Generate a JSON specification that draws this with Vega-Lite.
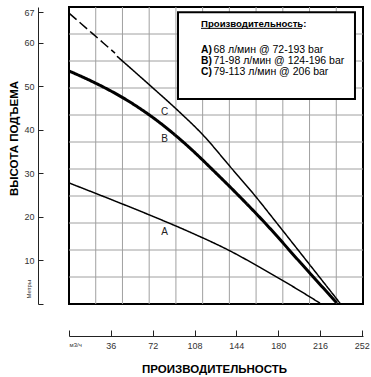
{
  "$schema": "https://vega.github.io/schema/vega-lite/v6.json",
  "width": 294,
  "height": 297,
  "autosize": "none",
  "padding": {"left": 69, "top": 7, "right": 8, "bottom": 73},
  "config": {
    "view": {"stroke": "black", "strokeWidth": 2},
    "font": "Liberation Sans"
  },
  "datasets": {
    "vgrid": [{"g": 23}, {"g": 46}, {"g": 69}, {"g": 92}, {"g": 115}, {"g": 138}, {"g": 161}, {"g": 184}, {"g": 207}, {"g": 230}],
    "hgrid": [{"g": 6.2}, {"g": 12.4}, {"g": 18.6}, {"g": 24.8}, {"g": 31.0}, {"g": 37.2}, {"g": 43.4}, {"g": 49.6}, {"g": 55.8}, {"g": 62.0}],
    "curves": [
      {"curve": "A", "part": "solid", "q": 0, "m": 27.8},
      {"curve": "A", "part": "solid", "q": 35.3, "m": 24.1},
      {"curve": "A", "part": "solid", "q": 69.7, "m": 20.4},
      {"curve": "A", "part": "solid", "q": 104.1, "m": 16.5},
      {"curve": "A", "part": "solid", "q": 138.5, "m": 12.2},
      {"curve": "A", "part": "solid", "q": 164.4, "m": 8.4},
      {"curve": "A", "part": "solid", "q": 190.2, "m": 4.4},
      {"curve": "A", "part": "solid", "q": 216.0, "m": 0.2},
      {"curve": "B", "part": "solid", "q": 0, "m": 53.5},
      {"curve": "B", "part": "solid", "q": 20.7, "m": 51.0},
      {"curve": "B", "part": "solid", "q": 49.9, "m": 46.8},
      {"curve": "B", "part": "solid", "q": 78.3, "m": 41.6},
      {"curve": "B", "part": "solid", "q": 104.1, "m": 35.8},
      {"curve": "B", "part": "solid", "q": 125.6, "m": 30.3},
      {"curve": "B", "part": "solid", "q": 147.1, "m": 24.6},
      {"curve": "B", "part": "solid", "q": 168.7, "m": 18.6},
      {"curve": "B", "part": "solid", "q": 198.8, "m": 9.6},
      {"curve": "B", "part": "solid", "q": 230.6, "m": 0.2},
      {"curve": "C", "part": "dashed", "q": 0, "m": 66.8},
      {"curve": "C", "part": "dashed", "q": 19.8, "m": 62.2},
      {"curve": "C", "part": "dashed", "q": 39.6, "m": 57.6},
      {"curve": "C", "part": "solid", "q": 41.3, "m": 56.9},
      {"curve": "C", "part": "solid", "q": 69.7, "m": 50.2},
      {"curve": "C", "part": "solid", "q": 93.8, "m": 44.4},
      {"curve": "C", "part": "solid", "q": 115.0, "m": 38.9},
      {"curve": "C", "part": "solid", "q": 138.5, "m": 31.6},
      {"curve": "C", "part": "solid", "q": 161.8, "m": 24.3},
      {"curve": "C", "part": "solid", "q": 175.5, "m": 19.7},
      {"curve": "C", "part": "solid", "q": 233.2, "m": 0.2}
    ],
    "curveLabels": [
      {"label": "A", "q": 82.2, "m": 16.6},
      {"label": "B", "q": 82.2, "m": 38.0},
      {"label": "C", "q": 82.2, "m": 44.2}
    ],
    "legendBold": [
      {"t": "A)", "q": 113.6, "m": 57.6},
      {"t": "B)", "q": 113.6, "m": 55.1},
      {"t": "C)", "q": 113.6, "m": 52.6}
    ],
    "legendText": [
      {"t": "68 л/мин @ 72-193 bar", "q": 124.3, "m": 57.6},
      {"t": "71-98 л/мин @ 124-196 bar", "q": 124.3, "m": 55.1},
      {"t": "79-113 л/мин @ 206 bar", "q": 124.3, "m": 52.6}
    ]
  },
  "layer": [
    {
      "data": {"name": "vgrid"},
      "mark": {"type": "rule", "stroke": "#a0a0a0", "strokeWidth": 1},
      "encoding": {
        "x": {"field": "g", "type": "quantitative", "scale": {"domain": [0, 253], "nice": false, "zero": false},
          "axis": {
            "orient": "bottom", "offset": 32,
            "values": [0, 36, 72, 108, 144, 180, 216, 252],
            "tickSize": -6, "tickColor": "#222", "domainColor": "#222",
            "labelPadding": 11, "labelFontSize": {"condition": {"test": "datum.value == 0", "value": 6}, "value": 9},
            "labelColor": "#333", "labelFont": "Liberation Sans",
            "labelExpr": "datum.value == 0 ? 'м3/ч' : datum.label",
            "grid": false,
            "title": "ПРОИЗВОДИТЕЛЬНОСТЬ", "titleFont": "Liberation Sans", "titleFontSize": 11.5, "titleFontWeight": "bold", "titleColor": "black",
            "titleX": 145, "titleY": 36, "titleBaseline": "alphabetic", "titleAlign": "center"
          }
        },
        "y": {"datum": 0, "type": "quantitative", "scale": {"domain": [0, 68.2], "nice": false, "zero": false},
          "axis": {
            "orient": "left", "offset": 31,
            "values": [0, 10, 20, 30, 40, 50, 60, 67],
            "tickSize": -5, "tickColor": "#222", "domainColor": "#222",
            "labelPadding": 9, "labelFontSize": 9,
            "labelColor": "#333", "labelFont": "Liberation Sans",
            "labelExpr": "datum.value == 0 ? '' : datum.label",
            "grid": false,
            "title": "ВЫСОТА ПОДЪЕМА", "titleFont": "Liberation Sans", "titleFontSize": 11.5, "titleFontWeight": "bold", "titleColor": "black",
            "titleX": -21, "titleY": 131, "titleBaseline": "alphabetic", "titleAlign": "center", "titleAngle": -90
          }
        },
        "y2": {"datum": 68.2}
      }
    },
    {
      "data": {"name": "hgrid"},
      "mark": {"type": "rule", "stroke": "#a0a0a0", "strokeWidth": 1},
      "encoding": {
        "y": {"field": "g", "type": "quantitative"},
        "x": {"datum": 0, "type": "quantitative"},
        "x2": {"datum": 253}
      }
    },
    {
      "data": {"name": "curves"},
      "mark": {"type": "line", "color": "black", "interpolate": "monotone"},
      "encoding": {
        "x": {"field": "q", "type": "quantitative"},
        "y": {"field": "m", "type": "quantitative"},
        "detail": [{"field": "curve"}, {"field": "part"}],
        "strokeWidth": {"field": "curve", "type": "nominal", "scale": {"type": "ordinal", "domain": ["A", "B", "C"], "range": [1.5, 3, 1.5]}, "legend": null},
        "strokeDash": {"field": "part", "type": "nominal", "scale": {"domain": ["solid", "dashed"], "range": [[1, 0], [10, 4]]}, "legend": null}
      }
    },
    {
      "data": {"name": "curveLabels"},
      "mark": {"type": "text", "fontSize": 10, "color": "#222", "align": "center", "baseline": "middle"},
      "encoding": {
        "x": {"field": "q", "type": "quantitative"},
        "y": {"field": "m", "type": "quantitative"},
        "text": {"field": "label"}
      }
    },
    {
      "data": {"values": [{"unit": "Метры"}]},
      "mark": {"type": "text", "fontSize": 6, "color": "#333", "align": "center", "baseline": "middle", "angle": 270},
      "encoding": {
        "x": {"datum": -34.4, "type": "quantitative"},
        "y": {"datum": 3.4, "type": "quantitative"},
        "text": {"field": "unit"}
      }
    },
    {
      "data": {"values": [{"box": "legend"}]},
      "mark": {"type": "rect", "fill": "white", "stroke": "black", "strokeWidth": 2},
      "encoding": {
        "x": {"datum": 93.8, "type": "quantitative"}, "x2": {"datum": 246.1},
        "y": {"datum": 67.0, "type": "quantitative"}, "y2": {"datum": 47.1}
      }
    },
    {
      "data": {"values": [{"t": "Производительность:"}]},
      "mark": {"type": "text", "fontSize": 9.6, "fontWeight": "bold", "color": "black", "align": "left", "baseline": "alphabetic"},
      "encoding": {
        "x": {"datum": 113.6, "type": "quantitative"},
        "y": {"datum": 63.7, "type": "quantitative"},
        "text": {"field": "t"}
      }
    },
    {
      "data": {"values": [{"t": "underline"}]},
      "mark": {"type": "rule", "color": "black", "strokeWidth": 1},
      "encoding": {
        "x": {"datum": 113.6, "type": "quantitative"}, "x2": {"datum": 200.5},
        "y": {"datum": 63.3, "type": "quantitative"}
      }
    },
    {
      "data": {"name": "legendBold"},
      "mark": {"type": "text", "fontSize": 10.3, "fontWeight": "bold", "color": "black", "align": "left", "baseline": "alphabetic"},
      "encoding": {
        "x": {"field": "q", "type": "quantitative"},
        "y": {"field": "m", "type": "quantitative"},
        "text": {"field": "t"}
      }
    },
    {
      "data": {"name": "legendText"},
      "mark": {"type": "text", "fontSize": 10.5, "color": "black", "align": "left", "baseline": "alphabetic"},
      "encoding": {
        "x": {"field": "q", "type": "quantitative"},
        "y": {"field": "m", "type": "quantitative"},
        "text": {"field": "t"}
      }
    }
  ]
}
